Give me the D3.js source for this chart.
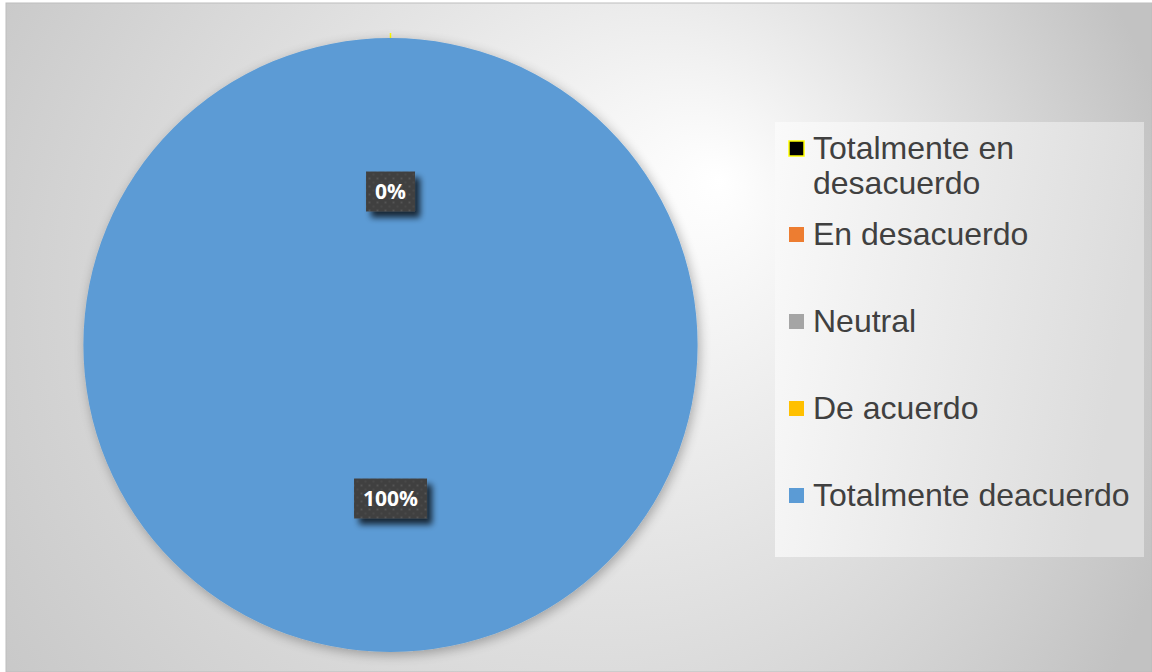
<!DOCTYPE html>
<html>
<head>
<meta charset="utf-8">
<script src="https://cdn.jsdelivr.net/npm/d3@7"></script>
<style>
  html, body { margin: 0; padding: 0; background: #ffffff; }
  svg { display: block; }
</style>
</head>
<body>
<svg id="chart" width="1152" height="672"></svg>
<script>
// Survey responses (percent of respondents)
const categories = ["Totalmente en desacuerdo", "En desacuerdo", "Neutral", "De acuerdo", "Totalmente deacuerdo"];
const values = [0, 0, 0, 0, 100];
const fills = ["#000000", "#ED7D31", "#A5A5A5", "#FFC000", "#5B9BD5"];
const strokes = ["#FFFF00", "none", "none", "none", "none"];
const legendLines = [["Totalmente en", "desacuerdo"], ["En desacuerdo"], ["Neutral"], ["De acuerdo"], ["Totalmente deacuerdo"]];

const W = 1152, H = 672;
const svg = d3.select("#chart");
const defs = svg.append("defs");

// Chart area background: off-centre radial gradient, brightest above the legend
const bg = defs.append("radialGradient").attr("id", "bgGrad")
  .attr("gradientUnits", "userSpaceOnUse")
  .attr("cx", 500).attr("cy", 336).attr("r", 700)
  .attr("fx", 720).attr("fy", 180);
bg.append("stop").attr("offset", "0%").attr("stop-color", "#ffffff");
bg.append("stop").attr("offset", "100%").attr("stop-color", "#c2c2c2");

const shadow = defs.append("filter").attr("id", "softShadow")
  .attr("x", "-10%").attr("y", "-10%").attr("width", "120%").attr("height", "120%");
shadow.append("feGaussianBlur").attr("in", "SourceAlpha").attr("stdDeviation", 6).attr("result", "blur");
shadow.append("feOffset").attr("in", "blur").attr("dx", 2).attr("dy", 3).attr("result", "off");
shadow.append("feComponentTransfer").attr("in", "off").attr("result", "sh")
  .append("feFuncA").attr("type", "linear").attr("slope", 0.3);
const m1 = shadow.append("feMerge");
m1.append("feMergeNode").attr("in", "sh");
m1.append("feMergeNode").attr("in", "SourceGraphic");

const labelShadow = defs.append("filter").attr("id", "labelShadow")
  .attr("x", "-30%").attr("y", "-30%").attr("width", "170%").attr("height", "170%");
labelShadow.append("feGaussianBlur").attr("in", "SourceAlpha").attr("stdDeviation", 3).attr("result", "blur");
labelShadow.append("feOffset").attr("in", "blur").attr("dx", 5).attr("dy", 6).attr("result", "off");
labelShadow.append("feComponentTransfer").attr("in", "off").attr("result", "sh")
  .append("feFuncA").attr("type", "linear").attr("slope", 0.75);
const m2 = labelShadow.append("feMerge");
m2.append("feMergeNode").attr("in", "sh");
m2.append("feMergeNode").attr("in", "SourceGraphic");

// Dotted texture for the data label boxes
const pat = defs.append("pattern").attr("id", "dots")
  .attr("patternUnits", "userSpaceOnUse").attr("width", 8).attr("height", 8);
pat.append("rect").attr("width", 8).attr("height", 8).attr("fill", "#404040");
pat.append("rect").attr("x", 2).attr("y", 2).attr("width", 2).attr("height", 2).attr("fill", "#545454");
pat.append("rect").attr("x", 6).attr("y", 6).attr("width", 2).attr("height", 2).attr("fill", "#4a4a4a");

const legendGrad = defs.append("linearGradient").attr("id", "legendGrad")
  .attr("x1", "0%").attr("y1", "0%").attr("x2", "100%").attr("y2", "20%");
legendGrad.append("stop").attr("offset", "0%").attr("stop-color", "#fafafa");
legendGrad.append("stop").attr("offset", "100%").attr("stop-color", "#dcdcdc");

// Chart area
svg.append("rect").attr("x", 6).attr("y", 3).attr("width", W - 6).attr("height", H - 3)
  .attr("fill", "url(#bgGrad)").attr("stroke", "#bdbdbd").attr("stroke-width", 1);

// Pie
const cx = 390.5, cy = 345, r = 307;
const pie = d3.pie().sort(null).value(d => d.value);
const data = categories.map((c, i) => ({ name: c, value: values[i], i }));
const arcs = pie(data);
const arc = d3.arc().innerRadius(0).outerRadius(r);
const arcOutline = d3.arc().innerRadius(0).outerRadius(r + 5);

const g = svg.append("g").attr("transform", `translate(${cx},${cy})`);

// Empty slices first so the full slice sits on top of their outlines
const ordered = arcs.slice().sort((a, b) => (a.value > 0) - (b.value > 0));
g.selectAll("path.slice").data(ordered).join("path")
  .attr("class", "slice")
  .attr("d", d => d.value > 0 ? arc(d) : arcOutline(d))
  .attr("fill", d => fills[d.data.i])
  .attr("stroke", d => d.value > 0 ? "none" : strokes[d.data.i])
  .attr("stroke-width", 1.5)
  .attr("filter", d => d.value > 0 ? "url(#softShadow)" : null);

// Data labels at slice centroids (coincident labels drawn once)
const total = d3.sum(values);
const seen = new Set();
const labels = arcs.filter(d => {
  const key = arc.centroid(d).map(v => Math.round(v)).join(",");
  if (seen.has(key)) return false;
  seen.add(key);
  return true;
});
const lg = g.selectAll("g.lbl").data(labels).join("g").attr("class", "lbl")
  .attr("transform", d => `translate(${arc.centroid(d)})`);
lg.each(function (d) {
  const sel = d3.select(this);
  const txt = d3.format(".0%")(d.value / total);
  sel.append("text")
    .attr("text-anchor", "middle").attr("dy", "0.36em")
    .attr("font-family", "Open Sans, Liberation Sans, Arial, sans-serif")
    .attr("font-weight", "bold").attr("font-size", 21)
    .attr("fill", "#ffffff").text(txt);
  const bb = this.getBBox();
  sel.insert("rect", "text")
    .attr("x", bb.x - 9).attr("y", -20).attr("width", bb.width + 18).attr("height", 40)
    .attr("fill", "url(#dots)").attr("filter", "url(#labelShadow)");
});

// Legend
const legendX = 775, legendY = 122, legendW = 369, legendH = 435;
svg.append("rect").attr("x", legendX).attr("y", legendY).attr("width", legendW).attr("height", legendH)
  .attr("fill", "url(#legendGrad)");

const itemCenters = [148, 234, 321, 408, 495];
const leg = svg.append("g");
categories.forEach((c, i) => {
  const yc = itemCenters[i];
  leg.append("rect").attr("x", 789).attr("y", yc - 7).attr("width", 15).attr("height", 15)
    .attr("fill", fills[i])
    .attr("stroke", strokes[i]).attr("stroke-width", 1.5);
  const t = leg.append("text").attr("x", 813).attr("y", yc + 11)
    .attr("font-family", "Liberation Sans, Arial, sans-serif")
    .attr("font-size", 32).attr("fill", "#404040");
  legendLines[i].forEach((line, k) => {
    t.append("tspan").attr("x", 813).attr("dy", k === 0 ? 0 : 35).text(line);
  });
});
</script>
</body>
</html>
